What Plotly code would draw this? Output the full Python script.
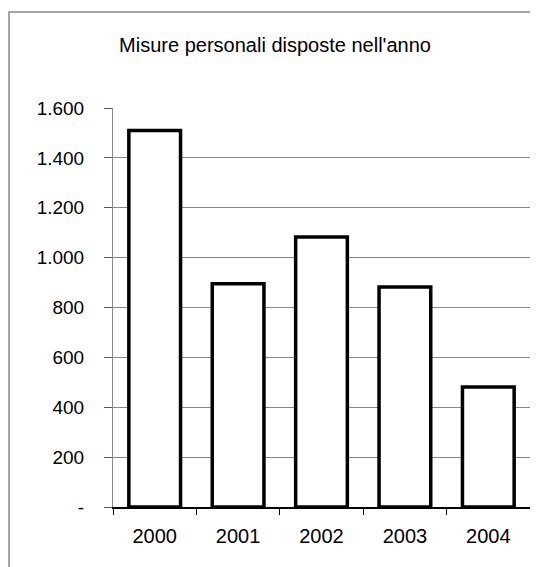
import plotly.graph_objects as go

# dati
anni = ["2000", "2001", "2002", "2003", "2004"]
misure = [1510, 895, 1083, 882, 481]
tick_vals = [0, 200, 400, 600, 800, 1000, 1200, 1400, 1600]
tick_text = ["-", "200", "400", "600", "800", "1.000", "1.200", "1.400", "1.600"]

# la pagina ha 8px di margine sul body: le coordinate sono già corrette
fig = go.Figure()
fig.add_trace(go.Bar(
    x=anni, y=misure,
    marker=dict(color="white", line=dict(color="black", width=3.5)),
    width=0.62,
))

fig.update_layout(
    width=538, height=567,
    margin=dict(l=105, r=16, t=100, b=68),
    paper_bgcolor="white", plot_bgcolor="white",
    font=dict(family="Liberation Sans, Arial", size=19, color="black"),
    title=dict(text="Misure personali disposte nell'anno", x=267 / 538, xref="container",
               xanchor="center", y=1 - 37 / 567, yanchor="middle",
               font=dict(size=20)),
    showlegend=False,
    xaxis=dict(type="category", tickson="boundaries", ticks="outside", ticklen=6,
               tickcolor="black", showline=True, linecolor="black", linewidth=1.5,
               showgrid=False, ticklabelstandoff=10, tickfont=dict(size=20)),
    yaxis=dict(range=[0, 1600], tickvals=tick_vals, ticktext=tick_text,
               ticks="outside", ticklen=8, tickcolor="#555",
               showgrid=True, gridcolor="#888", gridwidth=1,
               showline=True, linecolor="#888", mirror=True,
               zeroline=False, ticklabelstandoff=16),
)

# cornice esterna del grafico
fig.add_shape(type="rect", xref="paper", yref="paper",
              x0=(1 - 105) / 417, x1=(527 - 105) / 417,
              y0=-0.3, y1=(499 - 4) / 399,
              line=dict(color="#888", width=1.5), layer="below")

fig.write_html("out.html")
